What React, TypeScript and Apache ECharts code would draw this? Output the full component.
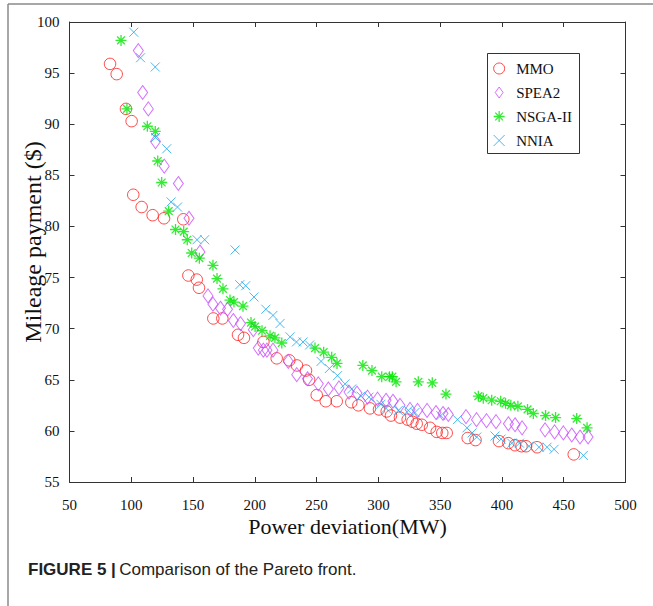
import React, { useEffect, useRef } from "react";
import * as echarts from "echarts";

const seriesNames = ["MMO", "SPEA2", "NSGA-II", "NNIA"];
const xTicks = [50, 100, 150, 200, 250, 300, 350, 400, 450, 500];
const yTicks = [55, 60, 65, 70, 75, 80, 85, 90, 95, 100];

const mmoX = [82.8, 88.2, 95.7, 100.3, 101.6, 108.4, 117.3, 126.5, 142.1, 146.2, 153.0, 154.8, 166.4, 173.7, 186.4, 191.2, 206.9, 217.7, 227.9, 234.1, 241.4, 243.9, 250.1, 257.4, 266.3, 278.1, 283.8, 293.2, 300.5, 306.7, 310.2, 317.5, 323.7, 327.5, 331.0, 335.1, 341.8, 347.2, 351.7, 355.3, 372.3, 378.6, 397.6, 405.2, 410.6, 415.8, 419.5, 428.4, 458.1];
const mmoY = [95.9, 94.9, 91.5, 90.3, 83.1, 81.9, 81.1, 80.8, 80.7, 75.2, 74.8, 74.0, 71.0, 71.0, 69.4, 69.1, 68.7, 67.1, 66.9, 66.4, 65.9, 65.0, 63.5, 62.9, 62.9, 62.8, 62.5, 62.2, 62.1, 61.9, 61.5, 61.3, 61.1, 60.9, 60.7, 60.6, 60.3, 59.9, 59.8, 59.8, 59.3, 59.1, 59.0, 58.8, 58.6, 58.5, 58.5, 58.4, 57.7];

const speaX = [105.7, 109.2, 113.8, 119.6, 126.7, 138.1, 146.7, 155.6, 162.1, 166.1, 172.2, 177.9, 182.6, 188.4, 198.8, 202.8, 206.9, 209.8, 214.7, 227.1, 233.9, 242.6, 251.4, 259.5, 268.1, 276.2, 282.7, 291.2, 299.3, 306.2, 311.8, 317.5, 325.6, 331.7, 339.4, 346.6, 352.3, 356.6, 370.9, 379.4, 387.5, 395.2, 405.2, 410.6, 416.3, 434.9, 442.6, 449.7, 456.5, 463.2, 469.7];
const speaY = [97.2, 93.1, 91.5, 88.3, 85.9, 84.2, 80.8, 77.5, 73.2, 72.4, 72.0, 71.9, 70.8, 70.5, 69.9, 68.1, 67.9, 67.9, 67.9, 66.8, 65.5, 65.1, 64.6, 64.1, 64.2, 63.8, 63.7, 63.3, 63.1, 63.0, 62.9, 62.5, 62.1, 62.0, 62.0, 61.8, 61.7, 61.6, 61.4, 61.1, 61.0, 60.9, 60.7, 60.6, 60.3, 60.1, 59.9, 59.8, 59.6, 59.4, 59.4];

const nsgaX = [91.7, 96.5, 113.0, 119.4, 121.4, 124.6, 130.3, 135.8, 142.4, 145.3, 148.9, 155.1, 166.1, 169.4, 174.2, 179.9, 183.1, 190.4, 196.9, 200.2, 205.8, 212.3, 216.3, 221.8, 248.7, 255.7, 262.2, 266.5, 287.4, 294.8, 302.7, 309.0, 311.3, 314.3, 332.3, 343.6, 354.7, 380.9, 384.9, 391.7, 399.0, 402.9, 407.2, 412.9, 420.7, 425.4, 435.3, 443.4, 460.5, 468.9];
const nsgaY = [98.2, 91.5, 89.8, 89.3, 86.4, 84.3, 81.5, 79.7, 79.5, 78.7, 77.4, 76.9, 76.2, 74.9, 73.9, 72.8, 72.6, 72.2, 70.6, 70.2, 69.8, 69.3, 69.1, 68.6, 68.1, 67.7, 67.2, 66.6, 66.4, 65.9, 65.3, 65.3, 65.3, 64.8, 64.8, 64.7, 63.6, 63.4, 63.2, 63.0, 62.9, 62.7, 62.5, 62.4, 62.1, 61.7, 61.5, 61.3, 61.2, 60.3];

const nniaX = [102.0, 107.5, 119.4, 119.6, 128.7, 132.2, 137.4, 153.2, 159.4, 184.0, 187.8, 192.6, 199.3, 208.9, 214.7, 220.4, 228.5, 233.7, 239.0, 244.3, 253.6, 260.3, 266.9, 273.0, 278.4, 285.9, 292.4, 302.0, 306.2, 316.1, 324.2, 329.6, 350.5, 364.0, 371.7, 375.8, 379.6, 394.4, 399.3, 407.9, 414.2, 421.9, 430.0, 436.5, 442.2, 465.9];
const nniaY = [99.0, 96.5, 95.6, 88.7, 87.6, 82.4, 81.9, 78.7, 78.7, 77.7, 74.3, 74.2, 73.1, 71.9, 71.3, 70.5, 69.2, 68.7, 68.7, 68.4, 66.8, 66.1, 65.4, 64.6, 64.1, 63.4, 63.3, 62.6, 62.2, 62.0, 62.0, 61.8, 61.5, 61.1, 60.3, 59.8, 59.4, 59.5, 59.2, 58.8, 58.8, 58.5, 58.4, 58.4, 58.2, 57.6];

const xTitle = "Power deviation(MW)";
const yTitle = "Mileage payment ($)";

const STAR = "path://M0,-1L0,1M-1,0L1,0M-0.707,-0.707L0.707,0.707M-0.707,0.707L0.707,-0.707";
const CROSS = "path://M-1,-1L1,1M-1,1L1,-1";
const DIAMOND = "path://M0,-7L5,0L0,7L-5,0Z";

const SERIF = "'Liberation Serif', 'Times New Roman', serif";
const SANS = "'Liberation Sans', Arial, sans-serif";

function zip(xs: number[], ys: number[]) {
  return xs.map((x, i) => [x, ys[i]]);
}

export default function App() {
  const ref = useRef<HTMLDivElement>(null);
  useEffect(() => {
    if (!ref.current) return;
    const chart = echarts.init(ref.current, null, { renderer: "svg" });
    const styles = [
      { symbol: "circle", legendIcon: "circle", size: 11.5, color: "#ff1a1a", width: 1 },
      { symbol: "diamond", legendIcon: DIAMOND, size: [10, 14], color: "#c84dff", width: 1 },
      { symbol: STAR, legendIcon: STAR, size: 11, color: "#00e600", width: 1.3 },
      { symbol: CROSS, legendIcon: CROSS, size: 9, color: "#1ea8ee", width: 1 },
    ];
    const datasets = [zip(mmoX, mmoY), zip(speaX, speaY), zip(nsgaX, nsgaY), zip(nniaX, nniaY)];
    const axisLineStyle = { color: "#333", width: 1 };
    const commonX = {
      type: "value",
      min: xTicks[0],
      max: xTicks[xTicks.length - 1],
      interval: 50,
      splitLine: { show: false },
      axisLine: { show: true, onZero: false, lineStyle: axisLineStyle },
      axisTick: { show: true, inside: true, length: 5, lineStyle: axisLineStyle },
    };
    const commonY = {
      type: "value",
      min: yTicks[0],
      max: yTicks[yTicks.length - 1],
      interval: 5,
      splitLine: { show: false },
      axisLine: { show: true, onZero: false, lineStyle: axisLineStyle },
      axisTick: { show: true, inside: true, length: 5, lineStyle: axisLineStyle },
    };
    chart.setOption({
      animation: false,
      backgroundColor: "#fff",
      grid: { left: 69.5, right: 27.5, top: 22, bottom: 124, show: false },
      xAxis: [
        {
          ...commonX,
          position: "bottom",
          axisLabel: { color: "#111", fontFamily: SERIF, fontSize: 15, margin: 15 },
          name: xTitle,
          nameLocation: "middle",
          nameGap: 33,
          nameMoveOverlap: false,
          nameTextStyle: { color: "#111", fontFamily: SERIF, fontSize: 22 },
        },
        {
          ...commonX,
          position: "top",
          axisLabel: { show: false },
        },
      ],
      yAxis: [
        {
          ...commonY,
          position: "left",
          axisLabel: { color: "#111", fontFamily: SERIF, fontSize: 15, margin: 10 },
          name: yTitle,
          nameLocation: "middle",
          nameGap: 25,
          nameMoveOverlap: false,
          nameTextStyle: { color: "#111", fontFamily: SERIF, fontSize: 24, padding: [0, 0, 0, 20] },
        },
        {
          ...commonY,
          position: "right",
          axisLabel: { show: false },
        },
      ],
      legend: {
        orient: "vertical",
        left: 493,
        top: 53,
        padding: [8, 5, 8, 0],
        itemGap: 9,
        itemWidth: 24,
        itemHeight: 11,
        symbolKeepAspect: true,
        selectedMode: false,
        textStyle: { color: "#111", fontFamily: SERIF, fontSize: 15 },
        data: seriesNames.map((n, i) => ({
          name: n,
          icon: styles[i].legendIcon,
          itemStyle: { color: "transparent", borderColor: styles[i].color, borderWidth: styles[i].width },
        })),
      },
      graphic: [
        { type: "line", shape: { x1: 8, y1: 4, x2: 653, y2: 4 }, style: { stroke: "#8a8a8a", lineWidth: 1.5 } },
        { type: "line", shape: { x1: 8, y1: 4, x2: 8, y2: 606 }, style: { stroke: "#8a8a8a", lineWidth: 1.5 } },
        { type: "rect", shape: { x: 487.5, y: 53.5, width: 92, height: 100 }, style: { fill: "none", stroke: "#333", lineWidth: 1 }, z: -1 },
        {
          type: "text",
          left: 28,
          top: 561,
          style: {
            text: "{b|FIGURE 5 |} {r|Comparison of the Pareto front.}",
            rich: {
              b: { fontFamily: SANS, fontSize: 17, fontWeight: "bold", fill: "#222" },
              r: { fontFamily: SANS, fontSize: 17, fill: "#222" },
            },
          },
        },
      ],
      series: seriesNames.map((n, i) => ({
        name: n,
        type: "scatter",
        xAxisIndex: 0,
        yAxisIndex: 0,
        symbol: styles[i].symbol,
        symbolSize: styles[i].size,
        itemStyle: { color: "transparent", borderColor: styles[i].color, borderWidth: styles[i].width },
        emphasis: { disabled: true },
        data: datasets[i],
      })),
    });
    return () => chart.dispose();
  }, []);
  return <div ref={ref} style={{ position: "absolute", left: 0, top: 0, width: 653, height: 606 }} />;
}
